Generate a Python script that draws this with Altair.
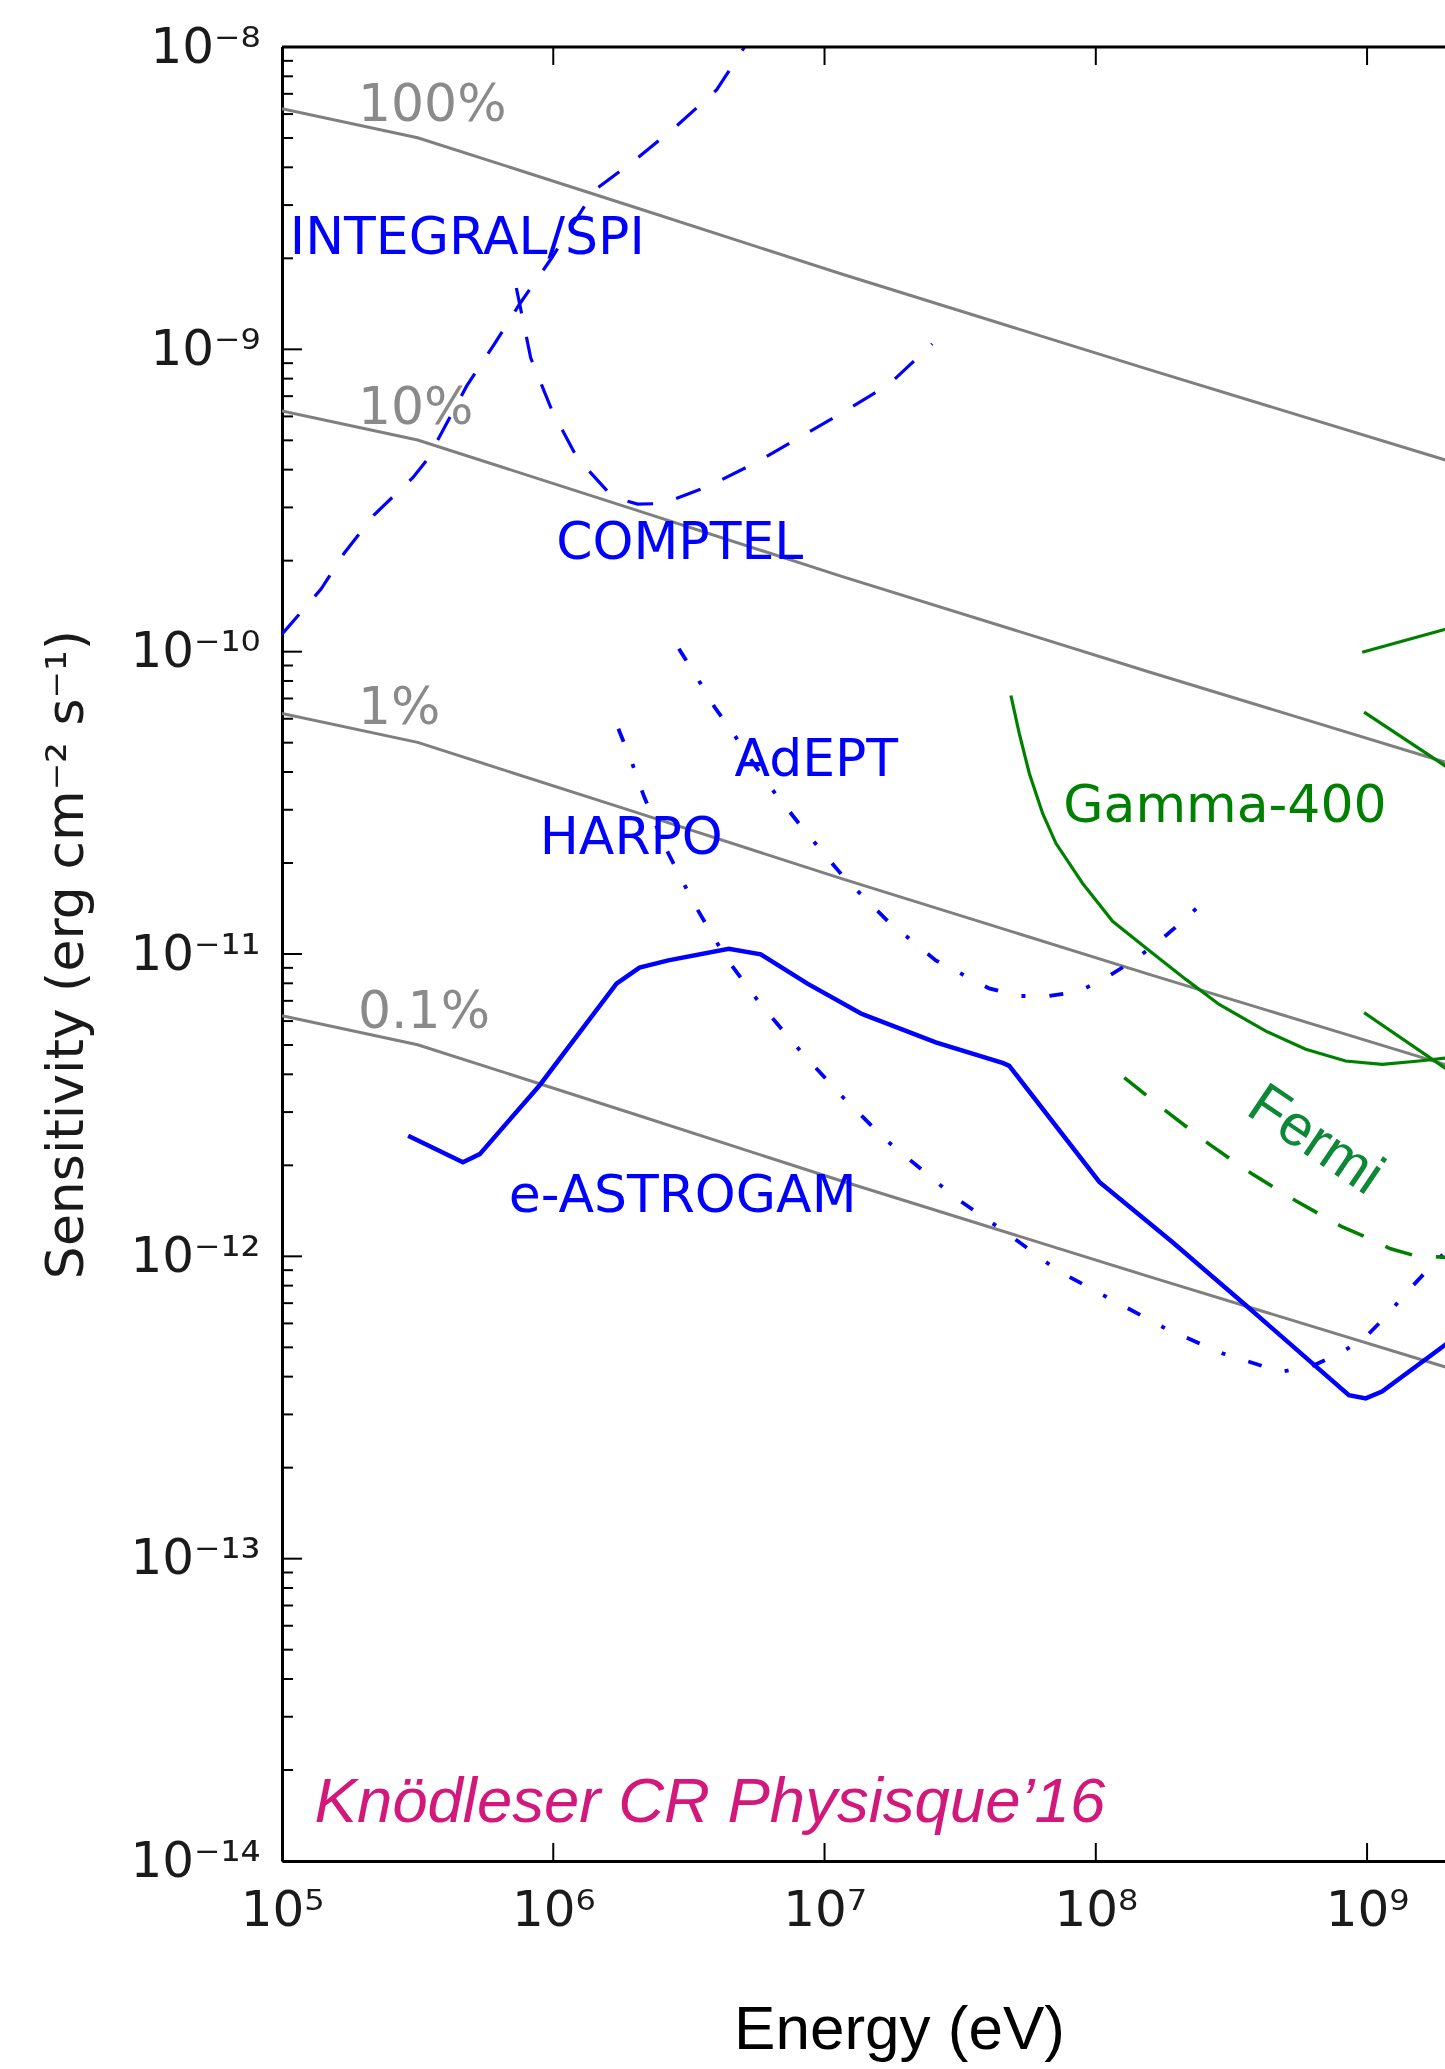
import math
import altair as alt
import pandas as pd

# ---------------- data (log10 E [eV], log10 S [erg cm^-2 s^-1]) -------------
crab_log_e = [5.0, 5.5, 6.3, 7.06, 8.2, 9.3]
crab100_log_s = [-8.204, -8.300, -8.530, -8.750, -9.068, -9.369]
crab10_log_s = [-9.204, -9.300, -9.530, -9.750, -10.068, -10.369]
crab1_log_s = [-10.204, -10.300, -10.530, -10.750, -11.068, -11.369]
crab01_log_s = [-11.204, -11.300, -11.530, -11.750, -12.068, -12.369]

integral_log_e = [5.000, 5.144, 5.227, 5.339, 5.483, 5.534, 5.588, 5.681, 5.784, 5.876,
                  5.994, 6.153, 6.311, 6.455, 6.602, 6.705]
integral_log_s = [-9.942, -9.793, -9.677, -9.548, -9.424, -9.366, -9.277, -9.121, -8.981, -8.850,
                  -8.698, -8.473, -8.367, -8.261, -8.142, -8.000]

comptel_log_e = [5.864, 5.917, 5.996, 6.088, 6.219, 6.311, 6.403, 6.575, 6.759, 6.917, 7.063, 7.239, 7.397]
comptel_log_s = [-8.797, -9.029, -9.204, -9.359, -9.488, -9.512, -9.510, -9.452, -9.369, -9.287,
                 -9.211, -9.115, -8.982]

harpo_log_e = [6.240, 6.292, 6.332, 6.410, 6.521, 6.634, 6.765, 6.922, 7.068, 7.226, 7.484, 7.677,
               7.859, 8.062, 8.258, 8.467, 8.682, 8.792, 8.897, 8.989, 9.068, 9.142, 9.222, 9.300]
harpo_log_s = [-10.255, -10.372, -10.473, -10.642, -10.837, -11.009, -11.167, -11.332, -11.474,
               -11.615, -11.807, -11.926, -12.047, -12.145, -12.239, -12.321, -12.382, -12.365,
               -12.322, -12.272, -12.200, -12.123, -12.046, -11.975]

adept_log_e = [6.463, 6.536, 6.595, 6.661, 6.785, 6.930, 7.075, 7.232, 7.410, 7.607, 7.718, 7.828,
               7.939, 8.037, 8.135, 8.227, 8.313, 8.399]
adept_log_s = [-9.990, -10.095, -10.184, -10.267, -10.431, -10.596, -10.750, -10.890, -11.021,
               -11.114, -11.139, -11.139, -11.123, -11.079, -11.024, -10.963, -10.897, -10.826]

eastrogam_log_e = [5.465, 5.667, 5.729, 5.950, 6.233, 6.318, 6.424, 6.647, 6.765, 6.937, 7.134,
                   7.410, 7.659, 7.681, 8.013, 8.281, 8.553, 8.933, 8.995, 9.055, 9.300]
eastrogam_log_s = [-11.601, -11.689, -11.662, -11.434, -11.098, -11.045, -11.021, -10.983, -11.001,
                   -11.098, -11.197, -11.292, -11.361, -11.370, -11.754, -11.952, -12.162, -12.459,
                   -12.470, -12.447, -12.285]

gamma400_log_e = [7.687, 7.718, 7.755, 7.804, 7.853, 7.951, 8.062, 8.185, 8.332, 8.455, 8.627,
                  8.774, 8.921, 9.056, 9.191, 9.300]
gamma400_log_s = [-10.145, -10.271, -10.403, -10.535, -10.634, -10.766, -10.892, -10.980, -11.084,
                  -11.167, -11.255, -11.315, -11.354, -11.365, -11.354, -11.343]

green_a_log_e = [8.982, 9.300]
green_a_log_s = [-10.002, -9.923]
green_b_log_e = [8.989, 9.300]
green_b_log_s = [-10.200, -10.385]
green_c_log_e = [8.989, 9.300]
green_c_log_s = [-11.194, -11.385]

fermi_log_e = [8.105, 8.258, 8.418, 8.577, 8.737, 8.909, 8.995, 9.087, 9.173, 9.300]
fermi_log_s = [-11.409, -11.519, -11.629, -11.728, -11.816, -11.903, -11.936, -11.975, -11.997, -12.004]

gray_labels = ["100%", "10%", "1%", "0.1%"]
gray_label_log_e = [5.28, 5.28, 5.28, 5.28]
gray_label_log_s = [-8.245, -9.247, -10.238, -11.246]

blue_labels = ["INTEGRAL/SPI", "COMPTEL", "HARPO", "AdEPT", "e-ASTROGAM"]
blue_label_log_e = [5.029, 6.011, 5.950, 6.668, 5.836]
blue_label_log_s = [-8.686, -9.695, -10.670, -10.410, -11.853]

green_labels = ["Gamma-400"]
green_label_log_e = [7.880]
green_label_log_s = [-10.562]

fermi_labels = ["Fermi"]
fermi_label_log_e = [8.547]
fermi_label_log_s = [-11.527]

credit_labels = ["Knödleser CR Physisque’16"]
credit_log_e = [5.12]
credit_log_s = [-13.871]

x_tick_values = [1e5, 1e6, 1e7, 1e8, 1e9]
x_tick_labels = ["10⁵", "10⁶", "10⁷", "10⁸", "10⁹"]
y_tick_values = [1e-14, 1e-13, 1e-12, 1e-11, 1e-10, 1e-9, 1e-8]
y_tick_labels = ["10⁻¹⁴", "10⁻¹³", "10⁻¹²", "10⁻¹¹", "10⁻¹⁰", "10⁻⁹", "10⁻⁸"]
y_minor_values = [m * 10.0 ** k for k in range(-14, -8) for m in range(2, 10)]

# ---------------- layout ----------------
W, H = 1163, 1814
X_MAX = 10 ** 9.2873

series = [
    ("100%", "crab", crab_log_e, crab100_log_s),
    ("10%", "crab", crab_log_e, crab10_log_s),
    ("1%", "crab", crab_log_e, crab1_log_s),
    ("0.1%", "crab", crab_log_e, crab01_log_s),
    ("INTEGRAL/SPI", "dashed_blue", integral_log_e, integral_log_s),
    ("COMPTEL", "dashed_blue", comptel_log_e, comptel_log_s),
    ("HARPO", "dashdot_blue", harpo_log_e, harpo_log_s),
    ("AdEPT", "dashdot_blue", adept_log_e, adept_log_s),
    ("e-ASTROGAM", "solid_blue", eastrogam_log_e, eastrogam_log_s),
    ("Gamma-400", "solid_green", gamma400_log_e, gamma400_log_s),
    ("green A", "solid_green", green_a_log_e, green_a_log_s),
    ("green B", "solid_green", green_b_log_e, green_b_log_s),
    ("green C", "solid_green", green_c_log_e, green_c_log_s),
    ("Fermi", "dashed_green", fermi_log_e, fermi_log_s),
]
rows = []
for name, group, le, ls in series:
    for i, (a, b) in enumerate(zip(le, ls)):
        rows.append({"series": name, "group": group, "i": i, "E": 10 ** a, "S": 10 ** b})
curves = pd.DataFrame(rows)


def text_df(labels, le, ls):
    return pd.DataFrame({"label": labels, "E": [10 ** a for a in le], "S": [10 ** b for b in ls]})


def label_expr(values, labels):
    parts = [f"abs(log(datum.value)/LN10 - ({round(math.log10(v))})) < 0.01 ? '{lab}'"
             for v, lab in zip(values, labels)]
    return " : ".join(parts) + " : ''"


xscale = alt.Scale(type="log", domain=[1e5, X_MAX], nice=False)
yscale = alt.Scale(type="log", domain=[1e-14, 1e-8], nice=False)

xaxis = alt.Axis(
    values=x_tick_values, labelExpr=label_expr(x_tick_values, x_tick_labels),
    labelFont="DejaVu Sans", labelFontSize=50, labelColor="#1a1a1a", labelPadding=24,
    labelFlush=False, labelOverlap=False, labelBaseline="top",
    ticks=False, tickSize=0, grid=False,
    domain=True, domainColor="black", domainWidth=3,
    title="Energy (eV)", titleFont="Liberation Sans", titleFontSize=62, titleFontWeight="normal",
    titleColor="black", titleX=617, titleY=187, titleAlign="center", titleBaseline="alphabetic",
)
yaxis = alt.Axis(
    values=y_tick_values, labelExpr=label_expr(y_tick_values, y_tick_labels),
    labelFont="DejaVu Sans", labelFontSize=50, labelColor="#1a1a1a", labelPadding=22,
    labelFlush=False, labelOverlap=False,
    ticks=False, tickSize=0, grid=False,
    domain=True, domainColor="black", domainWidth=3,
    title="Sensitivity (erg cm⁻² s⁻¹)", titleFont="DejaVu Sans", titleFontSize=52,
    titleFontWeight="normal", titleColor="#1a1a1a", titleX=-200, titleY=907, titleAngle=270,
    titleAlign="center", titleBaseline="alphabetic",
)


def X(field="E"):
    return alt.X(f"{field}:Q", scale=xscale, axis=xaxis)


def Y(field="S"):
    return alt.Y(f"{field}:Q", scale=yscale, axis=yaxis)


def line_layer(group, **kw):
    return alt.Chart(curves[curves.group == group]).mark_line(clip=True, **kw).encode(
        x=X(), y=Y(), detail="series:N", order="i:Q"
    )


layers = [
    line_layer("crab", color="#7f7f7f", strokeWidth=3),
    line_layer("dashed_blue", color="#0000ff", strokeWidth=3.2, strokeDash=[26, 24]),
    line_layer("dashdot_blue", color="#0000ff", strokeWidth=3.8, strokeDash=[14, 24, 4, 24]),
    line_layer("solid_blue", color="#0000ff", strokeWidth=4.5),
    line_layer("solid_green", color="#008000", strokeWidth=3.2),
    line_layer("dashed_green", color="#008000", strokeWidth=3.6, strokeDash=[28, 24]),
]


def text_layer(df, **kw):
    return alt.Chart(df).mark_text(align="left", baseline="alphabetic", **kw).encode(
        x=X(), y=Y(), text="label:N"
    )


layers += [
    text_layer(text_df(gray_labels, gray_label_log_e, gray_label_log_s),
               font="DejaVu Sans", fontSize=52, color="#8a8a8a"),
    text_layer(text_df(blue_labels, blue_label_log_e, blue_label_log_s),
               font="DejaVu Sans", fontSize=52, color="#0000ff"),
    text_layer(text_df(green_labels, green_label_log_e, green_label_log_s),
               font="DejaVu Sans", fontSize=52, color="#008000"),
    text_layer(text_df(fermi_labels, fermi_label_log_e, fermi_label_log_s),
               font="Liberation Sans", fontSize=58, color="#0c8836", angle=34),
    text_layer(text_df(credit_labels, credit_log_e, credit_log_s),
               font="Liberation Sans", fontSize=63.5, fontStyle="italic", color="#d2187a"),
]

# inward ticks (matplotlib style) and top spine
y_major_df = pd.DataFrame({"v": y_tick_values})
y_minor_df = pd.DataFrame({"v": y_minor_values})
x_major_df = pd.DataFrame({"v": x_tick_values})

layers += [
    alt.Chart(y_major_df).mark_rule(color="black", strokeWidth=2).encode(
        y=Y("v"), x=alt.value(0), x2=alt.value(20)),
    alt.Chart(y_minor_df).mark_rule(color="black", strokeWidth=2).encode(
        y=Y("v"), x=alt.value(0), x2=alt.value(11)),
    alt.Chart(x_major_df).mark_rule(color="black", strokeWidth=2).encode(
        x=X("v"), y=alt.value(0), y2=alt.value(18)),
    alt.Chart(x_major_df).mark_rule(color="black", strokeWidth=2).encode(
        x=X("v"), y=alt.value(H), y2=alt.value(H - 18)),
    alt.Chart(pd.DataFrame({"a": [0]})).mark_rule(color="black", strokeWidth=3).encode(
        x=alt.value(0), x2=alt.value(W + 5), y=alt.value(0)),
]

chart = alt.layer(*layers).properties(
    width=W, height=H,
    padding={"left": 282, "top": 47, "right": 0, "bottom": 208},
    autosize=alt.AutoSizeParams(type="none"),
    background="white",
).configure_view(stroke=None)

chart.save("out.html", embed_options={"renderer": "svg", "actions": False})
